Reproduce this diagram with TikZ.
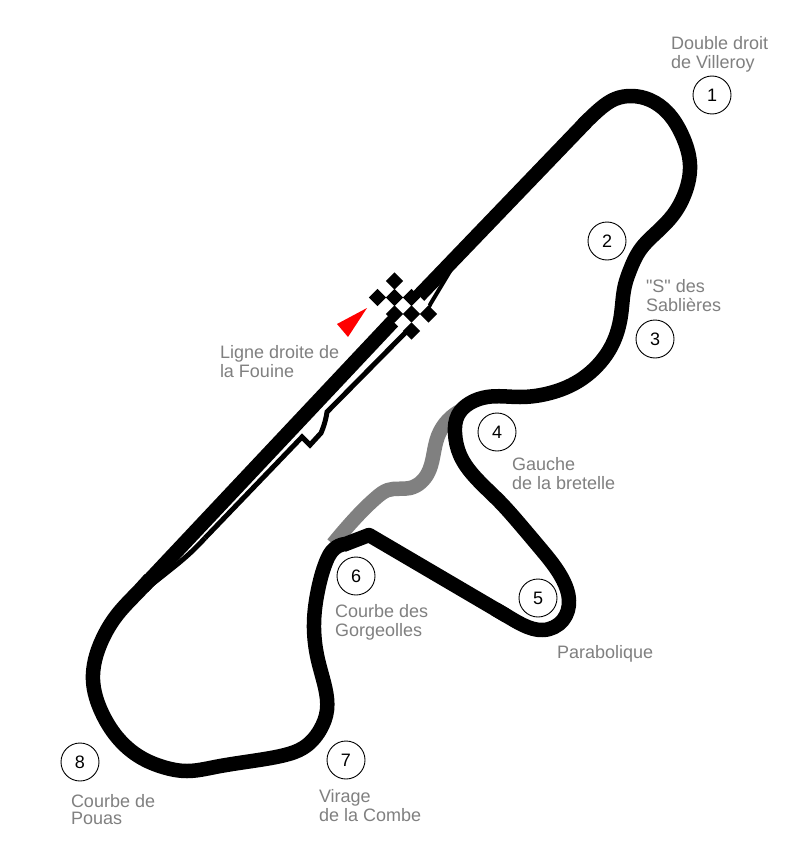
\documentclass[tikz,border=0pt]{standalone}
\usepackage{fontspec}
\setmainfont{Liberation Sans}[Ligatures=TeXOff]
\definecolor{lab}{RGB}{128,128,128}
\usetikzlibrary{shapes.geometric,hobby}
\tikzset{
  turn/.style={circle,draw=black,line width=0.9pt,fill=white,minimum size=38pt,inner sep=0pt,font=\fontsize{18}{18}\selectfont},
  lbl/.style={anchor=north west,inner sep=0pt,outer sep=0pt,align=left,text=lab,font=\fontsize{18}{18}\selectfont},
  chk/.style={diamond,fill=black,minimum size=17.2pt,inner sep=0pt},
  chw/.style={diamond,fill=white,minimum size=17.2pt,inner sep=0pt},
  trackline/.style={line width=14.5pt,line join=round},
  pitline/.style={line width=5pt,line join=miter},
}
\newcommand{\lb}[4]{\node[lbl] (#1) at (#2,#3-12.6) {\strut #4};}
\begin{document}
\begin{tikzpicture}[x=1pt,y=-1pt,use Hobby shortcut]
\useasboundingbox (0,0) rectangle (800,864);
\fill[white] (0,0) rectangle (800,864);
% link road
\draw[trackline,color=lab] (462,410) .. (438,436) .. (433,457) .. (428,473) .. (410,488) .. (388,490) .. (377,497) .. (350,524) .. (333,544);
% pit lane
\draw[pitline] (140,594) .. (165,574) .. (188,555) .. (205,538);
\draw[pitline] (205,538) -- (302,437) -- (310,445) -- (321,433) .. (324,425) .. (327,412) -- (409,329);
\draw[line width=4pt] (424,316) -- (431,303) -- (455,263);
% main circuit
\draw[trackline] (397,317) -- (143,587);
\draw[trackline] (150,579) .. (140,590) .. (117,615) .. (102,640) .. (93,680) .. (102,713) .. (117,737) .. (140,757) .. (163,767) .. (187,771) .. (215,767) .. (265,759) .. (285,755) .. (303,748) .. (320,730) .. (327,710) .. (325,687) .. (318,660) .. (314,623) .. (318,590) .. (326,562) .. (334,549) .. (345,544);
\draw[trackline] (343,545) -- (369,535) -- (507,616);
\draw[trackline] (495,609) .. (507,616) .. (523,625) .. (543,630) .. (563,620) .. (569,600) .. (563,580) .. (540,548) .. (518,522) .. (500,502) .. (475,477) .. (460,455) .. (455,433) .. (458,415) .. (470,403) .. (487,397) .. (520,397) .. (550,393) .. (577,382) .. (598,365) .. (612,345) .. (621,315) .. (625,285) .. (630,270) .. (640,250) .. (657,232) .. (673,215) .. (685,193) .. (690,165) .. (682,135) .. (667,112) .. (650,100) .. (632,96) .. (615,99) .. (601,108) .. (590,118) .. (583,125);
\draw[trackline] (586,122) -- (415,300);
% finish line
\foreach \i/\x/\y in {b/403/305.5,c/420/305.5,d/403/322.5,f/420/322.5}{\node[chw] (w\i) at (\x,\y) {};}
\foreach \i/\x/\y in {a/394.5/281,b/377.5/297.5,c/394.5/297.5,d/411.5/297.5,e/394.5/314,f/411.5/314,g/428.5/314,h/411.5/331}{\node[chk] (k\i) at (\x,\y) {};}
\fill[red] (367,308) -- (337,324) -- (348,337) -- cycle;
% turn numbers
\node[turn] (t1) at (712,95) {1};
\node[turn] (t2) at (607,241) {2};
\node[turn] (t3) at (655,339) {3};
\node[turn] (t4) at (497,432) {4};
\node[turn] (t5) at (538,598) {5};
\node[turn] (t6) at (356,576) {6};
\node[turn] (t7) at (346,760) {7};
\node[turn] (t8) at (80,762) {8};
% labels
\lb{l1}{671}{49}{Double droit\\[-0.6pt]\strut de Villeroy}
\lb{l2}{646}{292}{"S" des\\[-0.6pt]\strut Sablières}
\lb{l3}{220}{358}{Ligne droite de\\[-0.6pt]\strut la Fouine}
\lb{l4}{512}{470}{Gauche\\[-0.6pt]\strut de la bretelle}
\lb{l5}{335}{617}{Courbe des\\[-0.6pt]\strut Gorgeolles}
\lb{l6}{557}{658}{Parabolique}
\lb{l7}{319}{802}{Virage\\[-0.6pt]\strut de la Combe}
\lb{l8}{71}{807}{Courbe de\\[-0.6pt]\strut Pouas}
\end{tikzpicture}
\end{document}
